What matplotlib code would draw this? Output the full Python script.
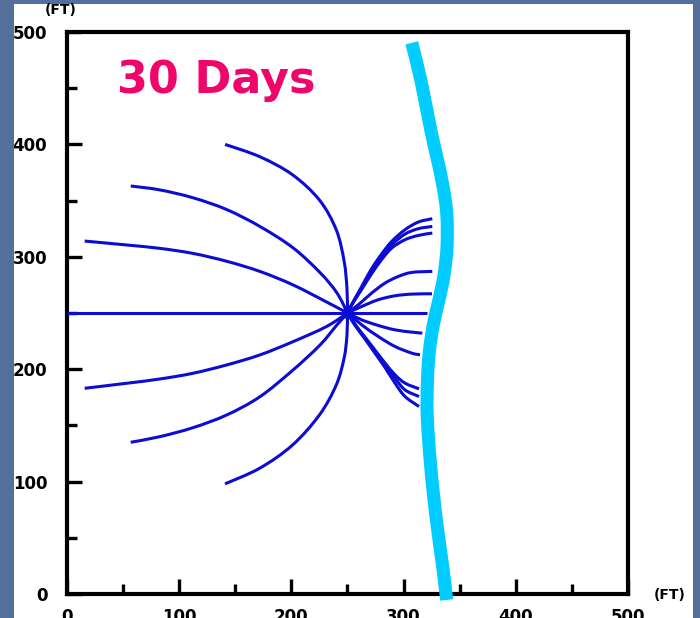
import matplotlib

matplotlib.use("Agg")
import matplotlib.pyplot as plt
from matplotlib.patches import Rectangle, PathPatch
from matplotlib.path import Path
from matplotlib.ticker import MultipleLocator

# linhas de fluxo a partir do poço (250, 250), em ft
WELL = (250, 250)

left_x_a = [141, 172, 201, 225, 240, 247, 249.5, 250]
left_y_a_up = [400, 389, 373, 350.5, 324, 296, 272, 250]
left_y_a_dn = [98, 112, 132.5, 159.3, 186, 210, 230, 250]

left_x_b = [57, 83, 112.5, 142.5, 172, 201.5, 225.5, 240.5, 250]
left_y_b_up = [363, 359.5, 352.5, 342, 327, 308, 286, 268, 250]
left_y_b_dn = [135, 140, 148, 159.3, 175.5, 199.3, 221.5, 239.3, 250]

left_x_c = [16, 53.5, 83, 112.5, 142.5, 172, 201.5, 231, 250]
left_y_c_up = [314, 310.5, 307.5, 303, 296, 287, 275, 260, 250]
left_y_c_dn = [183, 187.5, 191.3, 196.4, 203.8, 212.7, 224.5, 237.8, 250]

left_x_h = [0, 250]
left_y_h = [250, 250]

right_x_top = [250, 253.7, 262.6, 271.5, 280.4, 289.4, 301.2, 313.0, 325.5]
right_y_r1 = [250, 257.5, 273.5, 289.5, 302.5, 313.7, 324.1, 330.9, 333.9]
right_y_r2 = [250, 257.3, 272.2, 287.0, 300.3, 310.7, 320.2, 325.0, 327.0]
right_y_r3 = [250, 257.0, 271.0, 285.0, 297.5, 307.8, 315.2, 319.0, 321.1]

right_x_r4 = [250, 259.6, 271.5, 283.4, 295.2, 307.2, 325.5]
right_y_r4 = [250, 257.3, 267.7, 276.6, 282.5, 286.1, 287.0]

right_x_r5 = [250, 262.6, 277.4, 292.3, 307.2, 325.2]
right_y_r5 = [250, 255.8, 261.8, 265.3, 266.8, 267.1]

right_x_r6 = [250, 320.5]
right_y_r6 = [250, 250]

right_x_r7 = [250, 262.6, 277.4, 292.3, 307.2, 316.6]
right_y_r7 = [250, 243.9, 238.9, 235.0, 233.0, 232.1]

right_x_r8 = [250, 262.6, 277.4, 292.3, 307.2, 314.6]
right_y_r8 = [250, 239.5, 229.1, 220.2, 214.3, 212.8]

right_x_bot = [250, 256.7, 265.6, 274.5, 283.4, 292.3, 301.2, 313.7]
right_y_r9 = [250, 240.0, 228.5, 217.0, 205.5, 195.0, 187.6, 182.5]
right_y_r10 = [250, 239.5, 227.7, 215.7, 203.9, 192.0, 181.6, 175.7]
right_y_r11 = [250, 239.0, 226.8, 214.2, 201.5, 187.6, 175.7, 166.8]

# frente (linha ciano)
front_x = [307.2, 315.2, 324.1, 333.9, 338.3, 338.6, 335.8, 331.5, 326.5,
           322.8, 321.2, 321.0, 324.1, 328.8, 334.8, 338.3]
front_y = [490.3, 457.6, 413.1, 368.6, 339.2, 308.9, 283.0, 262.0, 240.0,
           215.0, 190.0, 157.6, 113.1, 68.6, 24.0, -5.3]

major_ticks = [0, 100, 200, 300, 400, 500]
tick_labels = ["0", "100", "200", "300", "400", "500"]
TITLE = "30 Days"

BG = "#52709a"
LINE = "#0c0cd2"
FRONT = "#00ccff"
PINK = "#f0056a"


def smooth_path(xs, ys):
    """Curva suave (Catmull-Rom -> Bézier) passando pelos pontos lidos."""
    pts = list(zip(xs, ys))
    if len(pts) < 3:
        return Path(pts)
    verts = [pts[0]]
    codes = [Path.MOVETO]
    n = len(pts)
    for i in range(n - 1):
        p0 = pts[max(i - 1, 0)]
        p1 = pts[i]
        p2 = pts[i + 1]
        p3 = pts[min(i + 2, n - 1)]
        c1 = (p1[0] + (p2[0] - p0[0]) / 6, p1[1] + (p2[1] - p0[1]) / 6)
        c2 = (p2[0] - (p3[0] - p1[0]) / 6, p2[1] - (p3[1] - p1[1]) / 6)
        verts += [c1, c2, p2]
        codes += [Path.CURVE4] * 3
    return Path(verts, codes)


W, H = 700, 618
fig = plt.figure(figsize=(W / 100, H / 100), dpi=100)
fig.patch.set_facecolor(BG)
fig.add_artist(Rectangle((14 / W, 0), (693 - 14) / W, (H - 4) / H,
                         transform=fig.transFigure, facecolor="white",
                         edgecolor="none", zorder=-10))

ax = fig.add_axes([66.7 / W, (H - 594) / H, (628.3 - 66.7) / W, (594 - 32) / H])
ax.set_xlim(0, 500)
ax.set_ylim(0, 500)
ax.set_facecolor("white")

streams = [
    (left_x_a, left_y_a_up), (left_x_a, left_y_a_dn),
    (left_x_b, left_y_b_up), (left_x_b, left_y_b_dn),
    (left_x_c, left_y_c_up), (left_x_c, left_y_c_dn),
    (left_x_h, left_y_h),
    (right_x_top, right_y_r1), (right_x_top, right_y_r2), (right_x_top, right_y_r3),
    (right_x_r4, right_y_r4), (right_x_r5, right_y_r5), (right_x_r6, right_y_r6),
    (right_x_r7, right_y_r7), (right_x_r8, right_y_r8),
    (right_x_bot, right_y_r9), (right_x_bot, right_y_r10), (right_x_bot, right_y_r11),
]
for xs, ys in streams:
    ax.add_patch(PathPatch(smooth_path(xs, ys), fill=False, edgecolor=LINE,
                           lw=2.2, capstyle="butt", joinstyle="round", zorder=3))
ax.plot([WELL[0]], [WELL[1]], "o", color=LINE, ms=7, zorder=4)

ax.add_patch(PathPatch(smooth_path(front_x, front_y), fill=False,
                       edgecolor=FRONT, lw=9.4, capstyle="butt",
                       joinstyle="round", clip_on=False, zorder=5))

fig.text(117 / W, (H - 93.3) / H, TITLE, fontsize=32, fontweight="bold",
         color=PINK, ha="left", va="baseline")

for s in ["left", "bottom", "right", "top"]:
    ax.spines[s].set_linewidth(3)
    ax.spines[s].set_color("black")

ax.set_xticks(major_ticks)
ax.set_yticks(major_ticks)
ax.set_xticklabels(tick_labels)
ax.set_yticklabels(tick_labels)
ax.xaxis.set_minor_locator(MultipleLocator(50))
ax.yaxis.set_minor_locator(MultipleLocator(50))
ax.tick_params(which="major", direction="in", length=11, width=2.4,
               labelsize=12, colors="black")
ax.tick_params(which="minor", direction="in", length=7, width=2.4)
ax.tick_params(axis="y", which="major", pad=14)
ax.tick_params(axis="x", which="major", pad=10)
for lab in ax.get_xticklabels() + ax.get_yticklabels():
    lab.set_fontweight("heavy")

fig.text(61 / W, (H - 10) / H, "(FT)", fontsize=10, fontweight="heavy",
         ha="center", va="center")
fig.text(654 / W, (H - 595) / H, "(FT)", fontsize=10, fontweight="heavy",
         ha="left", va="center")

# bordas azuis do slide por cima (cortam os rótulos como na original)
fig.add_artist(Rectangle((0, 0), 14 / W, 1, transform=fig.transFigure,
                         facecolor=BG, edgecolor="none", zorder=20))
fig.add_artist(Rectangle((693 / W, 0), 7 / W, 1, transform=fig.transFigure,
                         facecolor=BG, edgecolor="none", zorder=20))

fig.savefig("out.png", dpi=100, facecolor=BG)
